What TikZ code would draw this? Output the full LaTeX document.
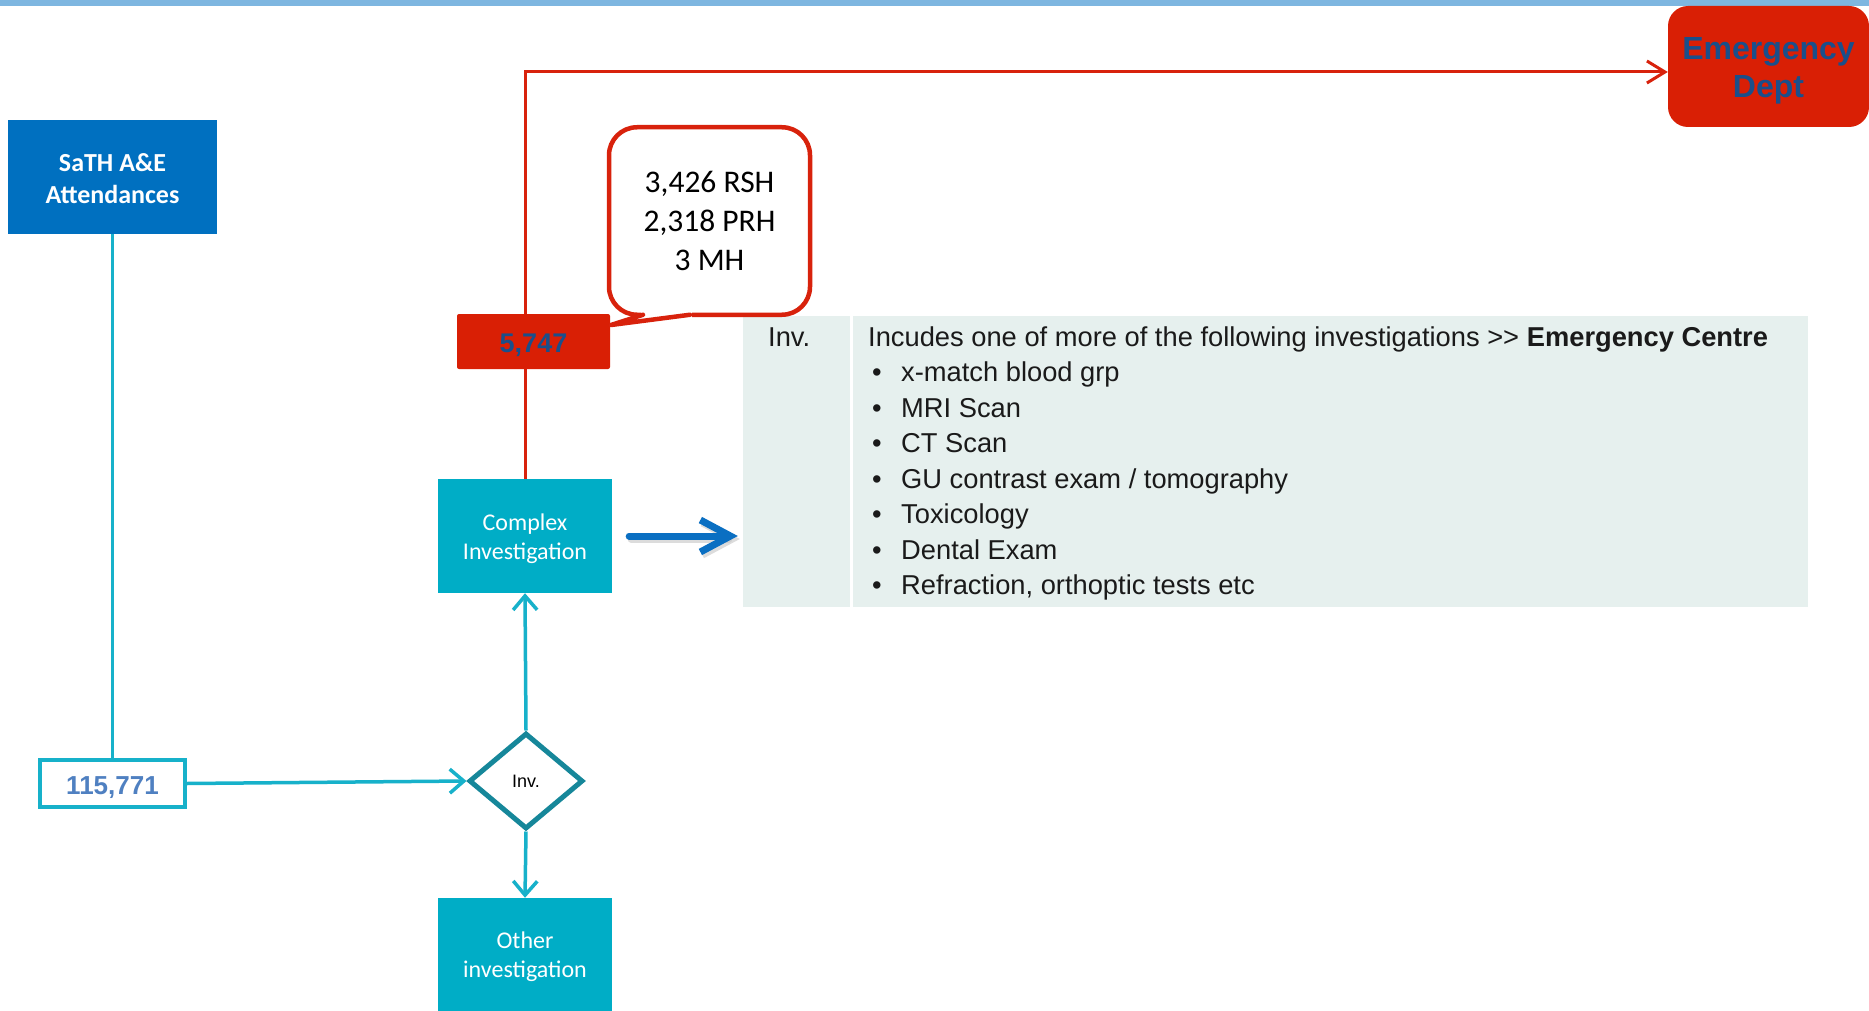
\documentclass[tikz,border=0pt]{standalone}
\usepackage{fontspec}
\setmainfont{Liberation Sans}
\newfontfamily\calibri{Carlito}
\usetikzlibrary{arrows.meta,shapes.geometric}
\definecolor{topbar}{HTML}{7EB6E0}
\definecolor{sathblue}{HTML}{0070C0}
\definecolor{tealline}{HTML}{17B1CA}
\definecolor{tealfill}{HTML}{00ADC6}
\definecolor{diamondline}{HTML}{16879A}
\definecolor{redline}{HTML}{D8220C}
\definecolor{redfill}{HTML}{D91F05}
\definecolor{darkbluetext}{HTML}{1A4F8B}
\definecolor{numblue}{HTML}{4F80C1}
\definecolor{tablebg}{HTML}{E6F0EE}
\definecolor{arrowblue}{HTML}{0A6FC2}
\definecolor{tabink}{HTML}{1A1A1A}
\begin{document}
\begin{tikzpicture}[x=1pt,y=-1pt,
  box/.style={rectangle, inner sep=0pt, align=center},
  sathbox/.style={box, fill=sathblue, text=white, minimum width=209pt, minimum height=114pt, font=\calibri\bfseries\fontsize{26}{32}\selectfont},
  tealbox/.style={box, fill=tealfill, text=white, minimum width=174pt, minimum height=114pt, font=\calibri\fontsize{24}{29}\selectfont},
  countbox/.style={box, draw=tealline, line width=4pt, fill=white, text=numblue, minimum width=145pt, minimum height=47pt, text height=21pt, text depth=0pt, font=\bfseries\fontsize{26}{30}\selectfont},
  decision/.style={diamond, draw=diamondline, line width=5pt, fill=white, minimum width=114pt, minimum height=96pt, inner sep=0pt, font=\fontsize{18}{20}\selectfont},
  redbox/.style={box, fill=redfill, text=darkbluetext, text height=21pt, text depth=0pt, font=\bfseries\fontsize{27}{30}\selectfont, rounded corners=2pt},
  emergbox/.style={box, fill=redfill, text=darkbluetext, rounded corners=20pt, minimum width=201pt, minimum height=121pt, font=\bfseries\fontsize{32}{38}\selectfont},
  calloutbox/.style={box, draw=redline, line width=4.5pt, fill=white, rounded corners=28pt, minimum width=201pt, minimum height=187.5pt, font=\calibri\fontsize{31.5}{39}\selectfont},
  tablebox/.style={box, fill=tablebg, minimum width=1065pt, minimum height=291pt},
  tealconn/.style={draw=tealline, line width=3.5pt},
  tealarrow/.style={tealconn, -{Straight Barb[length=14pt,width=24pt]}},
  redconn/.style={draw=redline, line width=3pt},
  tabtext/.style={anchor=base west, inner sep=0pt, font=\fontsize{27.3}{35}\selectfont, text=tabink},
]
\useasboundingbox (0,0) rectangle (1869,1011);
\fill[white] (0,0) rectangle (1869,1011);
\fill[topbar] (0,0) rectangle (1869,6);

% table
\node[tablebox] (invtable) at (1275.5,461.5) {};
\draw[white, line width=3pt] (invtable.north west -| 851,0) -- (invtable.south west -| 851,0);
\node[tabtext] (invcol) at (768,346) {Inv.};
\node[tabtext] (heading) at (868,346) {Incudes one of more of the following investigations >\kern0pt> \textbf{Emergency Centre}};
\foreach \i/\t in {1/{x-match blood grp}, 2/{MRI Scan}, 3/{CT Scan}, 4/{GU contrast exam / tomography}, 5/{Toxicology}, 6/{Dental Exam}, 7/{Refraction, orthoptic tests etc}}{
  \node[tabtext] (bullet\i) at (872,346+35.5*\i) {\textbullet};
  \node[tabtext] (item\i) at (901,346+35.5*\i) {\t};
}

% nodes
\node[sathbox] (sath) at (112.5,177) {\rule{0pt}{21pt}SaTH A\&E\\Attendances};
\node[countbox] (count) at (112.5,783.5) {115,771};
\node[decision] (decision) at (526,781) {Inv.};
\node[tealbox] (complex) at (525,536) {\rule{0pt}{22pt}Complex\\Investigation};
\node[tealbox, minimum height=113pt] (other) at (525,954.5) {\rule{0pt}{22pt}Other\\investigation};
\node[emergbox] (emerg) at (1768.5,66.5) {\rule{0pt}{31pt}Emergency\\Dept};
\node[calloutbox] (callout) at (709.5,221) {3,426 RSH\\2,318 PRH\\3 MH};

% connectors
\draw[tealconn] (sath.south) -- (count.north);
\draw[tealarrow] (count.east) -- (decision.west);
\draw[tealarrow] (decision.north) -- (complex.south);
\draw[tealarrow] (decision.south) -- (other.north);
\coordinate (corner) at (complex.north |- 0,72);
\draw[redconn, -{Straight Barb[length=18pt,width=22pt]}] (complex.north) -- (corner) -- (corner -| emerg.west);

\node[redbox, minimum width=153pt, minimum height=55pt] (n5747) at (533.5,341.5) {5,747};

% callout pointer
\coordinate (ptip) at (611,325);
\fill[white] (641,312) rectangle (692,317.5);
\draw[redline, line width=4.5pt, line join=round, line cap=round] (643,314.75) -- (ptip) -- (690,314.75);

% blue arrow
\draw[gray!45, opacity=0.6, line width=7pt, line cap=round, line join=round, -{Straight Barb[length=30pt,width=32pt]}] ([xshift=19pt,yshift=-3pt]complex.east) -- ([xshift=-3pt,yshift=-3pt]invtable.west |- complex.east);
\draw[arrowblue, line width=7pt, line cap=round, line join=round, -{Straight Barb[length=30pt,width=32pt]}] ([xshift=17pt]complex.east) -- ([xshift=-5pt]invtable.west |- complex.east);
\end{tikzpicture}
\end{document}
